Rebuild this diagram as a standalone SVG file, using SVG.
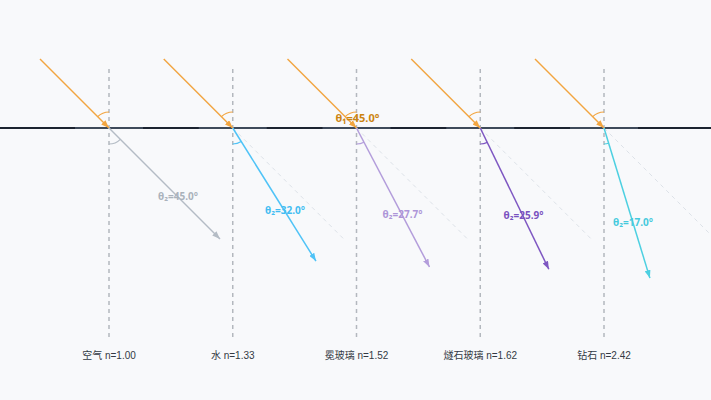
<svg xmlns="http://www.w3.org/2000/svg" width="711" height="400" viewBox="0 0 711 400">
<style>
text{font-family:"Liberation Sans","DejaVu Sans","Noto Sans CJK SC",sans-serif}
.normal{stroke:#b3b8be;stroke-width:1.5;stroke-dasharray:4 4;fill:none}
.ext{stroke:#dde2e8;stroke-width:1;stroke-dasharray:4 4;fill:none}
.inc{stroke:#f2a540;stroke-width:1.5;fill:none;marker-end:url(#mInc)}
.iarc{stroke:#f2a540;stroke-width:1.2;fill:none}
.ray{stroke-width:1.5;fill:none}
.arc{stroke-width:1.2;fill:none}
.ang{font-family:"Noto Sans","Open Sans","DejaVu Sans",sans-serif;font-size:10px;font-weight:bold;text-anchor:middle}
.med{font-size:10px;fill:#333a44;text-anchor:middle}
</style>
<defs>
<marker id="mInc" markerUnits="userSpaceOnUse" markerWidth="8" markerHeight="6" refX="8" refY="3" orient="auto"><path d="M0,0L8,3L0,6z" fill="#f2a540"/></marker>
<marker id="m0" markerUnits="userSpaceOnUse" markerWidth="8" markerHeight="6" refX="8" refY="3" orient="auto"><path d="M0,0L8,3L0,6z" fill="#b4bcc5"/></marker>
<marker id="m1" markerUnits="userSpaceOnUse" markerWidth="8" markerHeight="6" refX="8" refY="3" orient="auto"><path d="M0,0L8,3L0,6z" fill="#4fc3f7"/></marker>
<marker id="m2" markerUnits="userSpaceOnUse" markerWidth="8" markerHeight="6" refX="8" refY="3" orient="auto"><path d="M0,0L8,3L0,6z" fill="#b39ddb"/></marker>
<marker id="m3" markerUnits="userSpaceOnUse" markerWidth="8" markerHeight="6" refX="8" refY="3" orient="auto"><path d="M0,0L8,3L0,6z" fill="#7e57c2"/></marker>
<marker id="m4" markerUnits="userSpaceOnUse" markerWidth="8" markerHeight="6" refX="8" refY="3" orient="auto"><path d="M0,0L8,3L0,6z" fill="#4dd0e1"/></marker>
</defs>
<rect width="711" height="400" fill="#f8f9fb"/>

<g id="interface">
<line x1="0" y1="128" x2="711" y2="128" stroke="#1b2330" stroke-width="2"/>
<g stroke="#3e4a5a" stroke-width="2">
<line x1="75" y1="128" x2="143" y2="128"/>
<line x1="198.75" y1="128" x2="266.75" y2="128"/>
<line x1="322.5" y1="128" x2="390.5" y2="128"/>
<line x1="446.25" y1="128" x2="514.25" y2="128"/>
<line x1="570" y1="128" x2="638" y2="128"/>
</g>
</g>

<g id="normals">
<line class="normal" x1="109" y1="69" x2="109" y2="340"/>
<line class="normal" x1="232.75" y1="69" x2="232.75" y2="340"/>
<line class="normal" x1="356.5" y1="69" x2="356.5" y2="340"/>
<line class="normal" x1="480.25" y1="69" x2="480.25" y2="340"/>
<line class="normal" x1="604" y1="69" x2="604" y2="340"/>
</g>

<g id="connectors">
<line class="ext" x1="109" y1="128" x2="220" y2="239"/>
<line class="ext" x1="232.75" y1="128" x2="343.75" y2="239"/>
<line class="ext" x1="356.5" y1="128" x2="467.5" y2="239"/>
<line class="ext" x1="480.25" y1="128" x2="591.25" y2="239"/>
<line class="ext" x1="604" y1="128" x2="715" y2="239"/>

<line class="inc" x1="40" y1="59" x2="109" y2="128"/>
<line class="inc" x1="163.75" y1="59" x2="232.75" y2="128"/>
<line class="inc" x1="287.5" y1="59" x2="356.5" y2="128"/>
<line class="inc" x1="411.25" y1="59" x2="480.25" y2="128"/>
<line class="inc" x1="535" y1="59" x2="604" y2="128"/>

<line class="ray" stroke="#b4bcc5" marker-end="url(#m0)" x1="109" y1="128" x2="220" y2="239"/>
<line class="ray" stroke="#4fc3f7" marker-end="url(#m1)" x1="232.75" y1="128" x2="315.95" y2="261.1"/>
<line class="ray" stroke="#b39ddb" marker-end="url(#m2)" x1="356.5" y1="128" x2="429.47" y2="267"/>
<line class="ray" stroke="#7e57c2" marker-end="url(#m3)" x1="480.25" y1="128" x2="548.83" y2="269.24"/>
<line class="ray" stroke="#4dd0e1" marker-end="url(#m4)" x1="604" y1="128" x2="649.9" y2="278.1"/>
</g>

<g id="panel-air">
<path class="iarc" d="M109,112A16,16 0 0,0 97.69,116.69"/>
<path class="arc" stroke="#b4bcc5" d="M109,144A16,16 0 0,0 120.31,139.31"/>
<text class="ang" x="178" y="200" fill="#aab2bb">θ₂=45.0°</text>
<text class="med" x="109" y="359">空气 n=1.00</text>
</g>

<g id="panel-water">
<path class="iarc" d="M232.75,112A16,16 0 0,0 221.44,116.69"/>
<path class="arc" stroke="#4fc3f7" d="M232.75,144A16,16 0 0,0 241.23,141.57"/>
<text class="ang" x="285" y="214" fill="#42bdf2">θ₂=32.0°</text>
<text class="med" x="232.75" y="359">水 n=1.33</text>
</g>

<g id="panel-crown">
<path class="iarc" d="M356.5,112A16,16 0 0,0 345.19,116.69"/>
<path class="arc" stroke="#b39ddb" d="M356.5,144A16,16 0 0,0 363.94,142.17"/>
<text class="ang" x="357.5" y="122" fill="#cc8410" style="font-size:11px">θ₁=45.0°</text>
<text class="ang" x="402.5" y="218" fill="#ad95d8">θ₂=27.7°</text>
<text class="med" x="356.5" y="359">冕玻璃 n=1.52</text>
</g>

<g id="panel-flint">
<path class="iarc" d="M480.25,112A16,16 0 0,0 468.94,116.69"/>
<path class="arc" stroke="#7e57c2" d="M480.25,144A16,16 0 0,0 487.24,142.39"/>
<text class="ang" x="523.5" y="219" fill="#7a52c0">θ₂=25.9°</text>
<text class="med" x="480.25" y="359">燧石玻璃 n=1.62</text>
</g>

<g id="panel-diamond">
<path class="iarc" d="M604,112A16,16 0 0,0 592.69,116.69"/>
<path class="arc" stroke="#4dd0e1" d="M604,144A16,16 0 0,0 608.68,143.3"/>
<text class="ang" x="633" y="226" fill="#45cadd">θ₂=17.0°</text>
<text class="med" x="604" y="359">钻石 n=2.42</text>
</g>
</svg>
